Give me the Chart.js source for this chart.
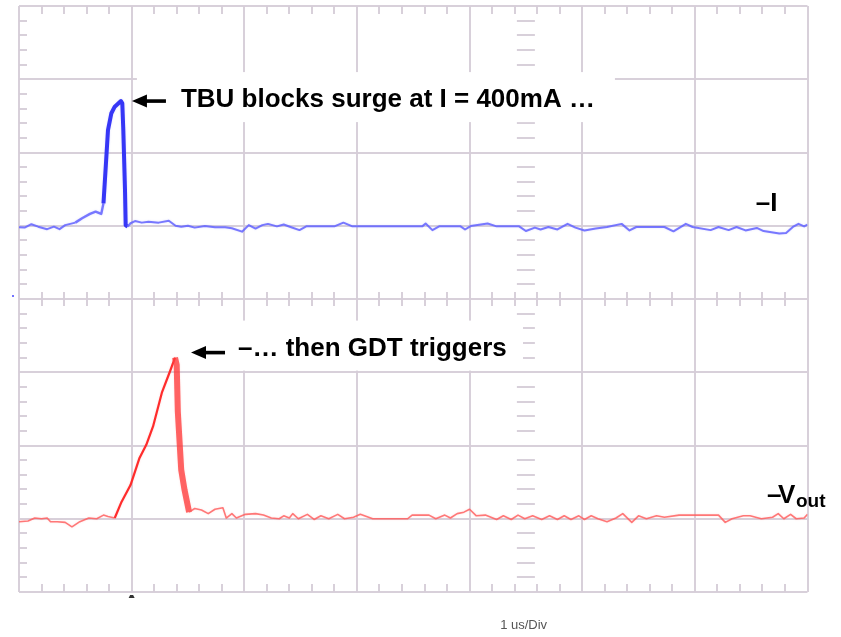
<!DOCTYPE html>
<html>
<head>
<meta charset="utf-8">
<title>TBU / GDT surge response</title>
<script src="https://cdn.jsdelivr.net/npm/chart.js@4.4.0/dist/chart.umd.min.js"></script>
<style>
  html, body { margin: 0; padding: 0; background: #ffffff; }
  #wrap { width: 841px; height: 637px; }
</style>
</head>
<body>
<div id="wrap"><canvas id="scope" width="841" height="637"></canvas></div>
<script>
// ---- Scope settings -------------------------------------------------------
// Horizontal: 1 µs per division, 7 divisions on screen.
const timeBase = '1 us/Div';
// Current channel: one division = 235 mA, screen spans -5 .. +3 divisions.
const mAPerDiv = 235;

// ---- Channel 1: line current I (mA) vs time (µs) ---------------------------
const tI = [
  0.00, 0.05, 0.11, 0.17, 0.25, 0.31, 0.36, 0.41, 0.50, 0.56,
  0.63, 0.68, 0.73, 0.75, 0.77, 0.79, 0.82, 0.85, 0.905, 0.917,
  0.926, 0.941, 0.947, 0.965, 0.99, 1.03, 1.09, 1.15, 1.24, 1.33,
  1.39, 1.44, 1.50, 1.56, 1.65, 1.74, 1.83, 1.89, 1.98, 2.04,
  2.10, 2.16, 2.21, 2.29, 2.35, 2.41, 2.49, 2.55, 2.80, 2.88,
  2.96, 3.58, 3.61, 3.67, 3.73, 3.92, 3.96, 4.01, 4.16, 4.24,
  4.44, 4.50, 4.58, 4.63, 4.70, 4.78, 4.87, 4.94, 5.02, 5.12,
  5.22, 5.35, 5.42, 5.48, 5.73, 5.81, 5.92, 5.98, 6.14, 6.21,
  6.30, 6.37, 6.45, 6.55, 6.61, 6.75, 6.81, 6.87, 6.92, 6.97,
  7.00
];
const iMA = [
  -5, -6, 5, -3, -11, -3, -11, 2, 10, 24,
  38, 45, 38, 72, 189, 307, 361, 382, 400, 393,
  307, 115, 2, -3, 8, 15, 10, 13, 10, 16,
  0, -3, 0, -6, -1, -5, -5, -8, -19, 2,
  -9, 2, 6, -2, 4, -4, -14, -2, -2, 10,
  -2, -2, 7, -14, -2, -2, -12, -1, 7, -2,
  -2, -17, -6, -12, -4, -12, 6, -6, -15, -9,
  -4, 6, -15, -4, -4, -18, 6, -4, -14, -4,
  -14, -4, -15, -7, -17, -25, -23, -4, 6, -2,
  4
];

// ---- Channel 2: output voltage Vout (divisions) vs time (µs) ---------------
const tV = [
  0.00, 0.08, 0.14, 0.20, 0.25, 0.28, 0.34, 0.41, 0.47, 0.54,
  0.62, 0.69, 0.75, 0.79, 0.85, 0.91, 0.99, 1.07, 1.13, 1.19,
  1.27, 1.34, 1.385, 1.40, 1.41, 1.44, 1.47, 1.51, 1.56, 1.62,
  1.68, 1.74, 1.81, 1.84, 1.89, 1.93, 2.01, 2.10, 2.17, 2.24,
  2.31, 2.35, 2.40, 2.43, 2.48, 2.56, 2.62, 2.68, 2.75, 2.83,
  2.89, 2.97, 3.03, 3.14, 3.45, 3.49, 3.64, 3.70, 3.78, 3.83,
  3.89, 3.95, 4.00, 4.06, 4.14, 4.24, 4.30, 4.37, 4.43, 4.49,
  4.56, 4.64, 4.71, 4.78, 4.84, 4.90, 4.97, 5.02, 5.08, 5.14,
  5.22, 5.30, 5.36, 5.44, 5.50, 5.57, 5.66, 5.73, 5.86, 6.21,
  6.27, 6.33, 6.43, 6.49, 6.59, 6.69, 6.74, 6.79, 6.85, 6.90,
  6.97, 7.00
];
const vDiv = [
  -0.04, -0.03, 0.01, 0.00, 0.01, -0.04, -0.04, -0.05, -0.11, -0.04,
  0.01, 0.00, 0.05, 0.03, 0.01, 0.23, 0.46, 0.83, 1.01, 1.26,
  1.73, 2.01, 2.20, 2.10, 1.46, 0.67, 0.39, 0.09, 0.14, 0.12,
  0.07, 0.13, 0.15, 0.01, 0.07, 0.01, 0.06, 0.07, 0.05, 0.01,
  0.00, 0.04, 0.01, 0.07, 0.00, 0.06, -0.01, 0.04, 0.00, 0.06,
  0.00, 0.02, 0.06, 0.00, 0.00, 0.05, 0.05, 0.00, 0.05, 0.01,
  0.07, 0.09, 0.13, 0.04, 0.05, -0.01, 0.04, -0.01, 0.05, 0.00,
  0.04, -0.01, 0.04, -0.01, 0.04, -0.01, 0.04, -0.01, 0.04, 0.00,
  -0.04, 0.01, 0.07, -0.05, 0.04, 0.00, 0.04, 0.02, 0.05, 0.05,
  -0.05, 0.00, 0.04, 0.04, 0.00, 0.02, 0.07, 0.00, 0.06, 0.00,
  0.01, 0.06
];

// ---- Annotation text ------------------------------------------------------
const noteTBU = 'TBU blocks surge at I = 400mA \u2026';
const noteGDT = '\u2013\u2026 then GDT triggers';
const labelI = 'I';
const labelV = 'V';
const labelVsub = 'out';

// ---- Styling --------------------------------------------------------------
const gridColor = 'rgba(214, 206, 216, 0.95)';
const glowColors = ['rgba(140,140,255,0.35)', 'rgba(255,140,140,0.35)'];
const boldFont = 'bold 26px "Liberation Sans", Arial, sans-serif';

const pts = (xs, ys) => xs.map((x, i) => ({ x, y: ys[i] }));
const inRange = (c, lo, hi) => c.p0.parsed.x >= lo && c.p1.parsed.x <= hi;

// Fine graticule marks: edge ticks, centre cross-hair ticks
const graticule = {
  id: 'graticule',
  beforeDatasetsDraw(chart) {
    const { ctx, chartArea: a, scales: { x, yI } } = chart;
    const midY = yI.getPixelForValue(-mAPerDiv);
    const midX = x.getPixelForValue(4.5);
    ctx.save();
    ctx.strokeStyle = gridColor;
    ctx.lineWidth = 2;
    ctx.beginPath();
    for (let k = 1; k < 35; k++) {
      if (k % 5 === 0) continue;
      const px = Math.round(x.getPixelForValue(k / 5));
      ctx.moveTo(px, a.top); ctx.lineTo(px, a.top + 8);
      ctx.moveTo(px, a.bottom); ctx.lineTo(px, a.bottom - 8);
      ctx.moveTo(px, midY - 7); ctx.lineTo(px, midY + 7);
    }
    for (let k = 1; k < 40; k++) {
      if (k % 5 === 0) continue;
      const py = Math.round(yI.getPixelForValue(-5 * mAPerDiv + k * mAPerDiv / 5));
      ctx.moveTo(a.left, py); ctx.lineTo(a.left + 8, py);
      ctx.moveTo(midX - 9, py); ctx.lineTo(midX + 9, py);
    }
    ctx.stroke();
    ctx.restore();
  },
  // soft phosphor glow around each trace
  beforeDatasetDraw(chart, args) {
    chart.ctx.save();
    chart.ctx.shadowColor = glowColors[args.index] || glowColors[0];
    chart.ctx.shadowBlur = 2;
  },
  afterDatasetDraw(chart) {
    chart.ctx.restore();
  }
};

function leftArrow(ctx, tx, ty) {
  ctx.beginPath();
  ctx.moveTo(tx, ty);
  ctx.lineTo(tx + 15, ty - 6.5);
  ctx.lineTo(tx + 15, ty + 6.5);
  ctx.closePath();
  ctx.fill();
  ctx.fillRect(tx + 13, ty - 1.8, 21, 3.6);
}

// Call-outs, channel markers and time-base readout
const callouts = {
  id: 'callouts',
  afterDatasetsDraw(chart) {
    const { ctx, chartArea: a, scales: { x, yI, yV } } = chart;
    ctx.save();

    // Peak of the current pulse
    const iPk = iMA.indexOf(Math.max(...iMA));
    const t1x = x.getPixelForValue(tI[iPk]) + 11;
    const t1y = yI.getPixelForValue(iMA[iPk]);
    ctx.fillStyle = '#ffffff';
    ctx.fillRect(t1x + 5, t1y - 29, 478, 50);
    ctx.fillStyle = '#000000';
    leftArrow(ctx, t1x, t1y);
    ctx.font = boldFont;
    ctx.textBaseline = 'alphabetic';
    ctx.fillText(noteTBU, t1x + 49, t1y + 6);

    // Peak of the output voltage
    const vPk = vDiv.indexOf(Math.max(...vDiv));
    const t2x = x.getPixelForValue(tV[vPk]) + 16;
    const t2y = yV.getPixelForValue(vDiv[vPk]) - 5;
    ctx.fillStyle = '#ffffff';
    ctx.fillRect(t2x + 34, t2y - 32, 298, 50);
    ctx.fillStyle = '#000000';
    leftArrow(ctx, t2x, t2y);
    ctx.fillText(noteGDT, t2x + 47, t2y + 3.5);

    // Channel labels at the right end of each trace
    const iy = yI.getPixelForValue(0);
    ctx.fillText('\u2013' + labelI, x.getPixelForValue(6.54), iy - 15);
    const vy = yV.getPixelForValue(0);
    const vx = x.getPixelForValue(6.64);
    ctx.fillText('\u2013', vx, vy - 16);
    ctx.fillText(labelV, vx + 11, vy - 16);
    ctx.font = 'bold 19px "Liberation Sans", Arial, sans-serif';
    ctx.fillText(labelVsub, vx + 29, vy - 12);

    // Time base readout
    ctx.font = '13px "Liberation Sans", Arial, sans-serif';
    ctx.fillStyle = '#555555';
    ctx.textAlign = 'center';
    ctx.fillText(timeBase, x.getPixelForValue(4.48), a.bottom + 37);

    // Trigger position marker and channel ground marker
    const trig = x.getPixelForValue(1);
    ctx.fillStyle = '#333333';
    ctx.beginPath();
    ctx.moveTo(trig - 3, a.bottom + 6);
    ctx.lineTo(trig - 1.5, a.bottom + 3);
    ctx.lineTo(trig + 1.5, a.bottom + 3);
    ctx.lineTo(trig + 3, a.bottom + 6);
    ctx.closePath();
    ctx.fill();
    ctx.fillStyle = 'rgba(80,80,255,0.8)';
    ctx.fillRect(a.left - 7, yI.getPixelForValue(-mAPerDiv) - 4, 2, 2);

    ctx.restore();
  }
};

new Chart(document.getElementById('scope'), {
  type: 'line',
  data: {
    datasets: [
      {
        label: 'I',
        data: pts(tI, iMA),
        yAxisID: 'yI',
        borderColor: 'rgba(100, 100, 255, 0.85)',
        borderWidth: 2,
        pointRadius: 0,
        tension: 0,
        borderJoinStyle: 'round',
        segment: {
          borderWidth: c => inRange(c, 0.74, 0.97) ? 4 : (inRange(c, 0.5, 0.75) ? 2.4 : undefined),
          borderColor: c => inRange(c, 0.74, 0.97) ? 'rgba(45, 45, 245, 0.95)' : undefined
        }
      },
      {
        label: 'Vout',
        data: pts(tV, vDiv),
        yAxisID: 'yV',
        borderColor: 'rgba(255, 90, 90, 0.8)',
        borderWidth: 1.6,
        pointRadius: 0,
        tension: 0,
        borderJoinStyle: 'round',
        segment: {
          borderWidth: c => inRange(c, 1.385, 1.52) ? 6 : (inRange(c, 0.84, 1.39) ? 2.2 : undefined),
          borderColor: c => inRange(c, 1.385, 1.52) ? 'rgba(255, 55, 55, 0.75)'
            : (inRange(c, 0.84, 1.39) ? 'rgba(255, 35, 35, 0.95)' : undefined)
        }
      }
    ]
  },
  options: {
    responsive: false,
    animation: false,
    devicePixelRatio: 1,
    layout: { padding: { left: 19, right: 33.5, top: 6, bottom: 45 } },
    plugins: { legend: { display: false }, tooltip: { enabled: false } },
    scales: {
      x: {
        type: 'linear',
        min: 0, max: 7,
        ticks: { display: false, stepSize: 1 },
        grid: { color: gridColor, lineWidth: 2, drawTicks: false },
        border: { display: false }
      },
      yI: {
        type: 'linear',
        position: 'left',
        min: -5 * mAPerDiv, max: 3 * mAPerDiv,
        ticks: { display: false, stepSize: mAPerDiv },
        grid: { color: gridColor, lineWidth: 2, drawTicks: false },
        border: { display: false }
      },
      yV: {
        type: 'linear',
        display: false,
        min: -1, max: 7
      }
    }
  },
  plugins: [graticule, callouts]
});
</script>
</body>
</html>
